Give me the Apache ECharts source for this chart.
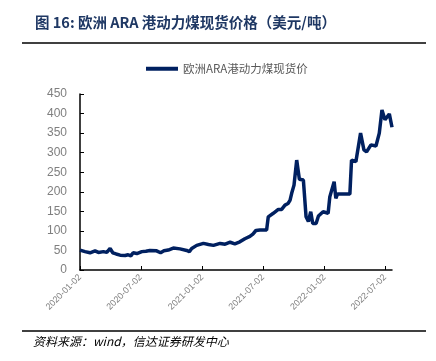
<!DOCTYPE html>
<html><head><meta charset="utf-8">
<script src="https://cdn.jsdelivr.net/npm/echarts@6/dist/echarts.min.js"></script>
<style>html,body{margin:0;padding:0;background:#fff}#c{width:436px;height:361px}</style>
</head><body><div id="c"></div>
<script>
var seriesName = '欧洲ARA港动力煤现货价';
var dates = ['2020-01-02','2020-01-17','2020-02-01','2020-02-16','2020-02-26','2020-03-12','2020-03-22','2020-04-01','2020-04-09','2020-04-19','2020-05-01','2020-05-16','2020-05-25','2020-06-02','2020-06-09','2020-06-20','2020-07-05','2020-07-17','2020-07-29','2020-08-18','2020-08-30','2020-09-09','2020-09-22','2020-10-07','2020-10-27','2020-11-16','2020-11-24','2020-12-01','2020-12-16','2021-01-05','2021-01-20','2021-02-04','2021-02-24','2021-03-11','2021-03-26','2021-04-09','2021-04-24','2021-05-09','2021-05-24','2021-06-02','2021-06-11','2021-06-23','2021-07-13','2021-07-18','2021-08-02','2021-08-17','2021-08-27','2021-09-06','2021-09-15','2021-09-21','2021-09-26','2021-10-03','2021-10-11','2021-10-19','2021-10-31','2021-11-08','2021-11-15','2021-11-22','2021-11-28','2021-12-08','2021-12-15','2021-12-29','2022-01-13','2022-01-18','2022-01-31','2022-02-05','2022-02-10','2022-03-19','2022-03-24','2022-04-06','2022-04-20','2022-04-30','2022-05-08','2022-05-21','2022-06-05','2022-06-15','2022-06-23','2022-07-02','2022-07-15','2022-07-23'];
var values = [51,47,44,49,45,47,45,55,44,41,38,37,39,36,44,42,47,48,50,49,44,49,51,56,54,50,47,55,63,68,65,63,68,66,71,67,72,80,86,92,101,102,102,136,145,155,155,166,170,178,196,217,281,232,230,136,124,149,119,119,138,149,145,187,226,183,194,194,281,277,350,307,302,320,317,350,409,384,399,365];
var tickDates = ['2020-01-02','2020-07-02','2021-01-02','2021-07-02','2022-01-02','2022-07-02'];
var yMin = 0, yMax = 450, yStep = 50;

function ts(s){var p=s.split('-');return Date.UTC(+p[0],+p[1]-1,+p[2]);}
function fmt(v){var d=new Date(v);var m=d.getUTCMonth()+1,dd=d.getUTCDate();return d.getUTCFullYear()+'-'+(m<10?'0':'')+m+'-'+(dd<10?'0':'')+dd;}
var data = dates.map(function(d,i){return [ts(d), values[i]];});
var ticks = tickDates.map(ts);

var chart = echarts.init(document.getElementById('c'), null, {renderer:'canvas'});
chart.setOption({
  animation:false,
  backgroundColor:'#fff',
  title:{text:'图 16: 欧洲 ARA 港动力煤现货价格（美元/吨）', left:30, top:10,
    textStyle:{fontFamily:'Noto Sans CJK SC', fontSize:14.5, fontWeight:'bold', color:'#1f3864'}},
  graphic:[
    {type:'line', shape:{x1:22,y1:43,x2:426,y2:43}, style:{stroke:'#000', lineWidth:1.5}},
    {type:'line', shape:{x1:22,y1:331,x2:426,y2:331}, style:{stroke:'#000', lineWidth:1.5}},
    {type:'text', left:33, top:335, style:{text:'资料来源：wind，信达证券研发中心', fontFamily:'Noto Sans CJK SC', fontSize:12, fontStyle:'italic', fill:'#000'}}
  ],
  legend:{data:[seriesName], left:141, top:58, itemWidth:32, itemHeight:4, itemGap:6,
    icon:'rect',
    textStyle:{fontFamily:'Noto Sans CJK SC', fontSize:11.5, color:'#595959'}},
  grid:{left:80, right:44, top:94, bottom:91},
  xAxis:{type:'value', min:ts('2020-01-02'), max:ts('2022-07-23'), scale:true,
    axisLine:{lineStyle:{color:'#000', width:1.5}},
    axisTick:{show:true, inside:true, length:4, customValues:ticks, lineStyle:{color:'#000'}},
    axisLabel:{customValues:ticks, rotate:45, fontSize:9, color:'#7f7f7f', margin:6,
      fontFamily:'Liberation Sans', formatter:function(v){return fmt(v);}},
    splitLine:{show:false}},
  yAxis:{type:'value', min:yMin, max:yMax, interval:yStep,
    axisLine:{show:true, lineStyle:{color:'#000', width:1.5}},
    axisTick:{show:true, inside:true, length:4, lineStyle:{color:'#000'}},
    axisLabel:{fontSize:12, color:'#7f7f7f', margin:13, fontFamily:'Liberation Sans'},
    splitLine:{show:false}},
  series:[{name:seriesName, type:'line', data:data, showSymbol:false, symbol:'none',
    lineStyle:{color:'#002060', width:3.5}, itemStyle:{color:'#002060'}}]
});
</script></body></html>
